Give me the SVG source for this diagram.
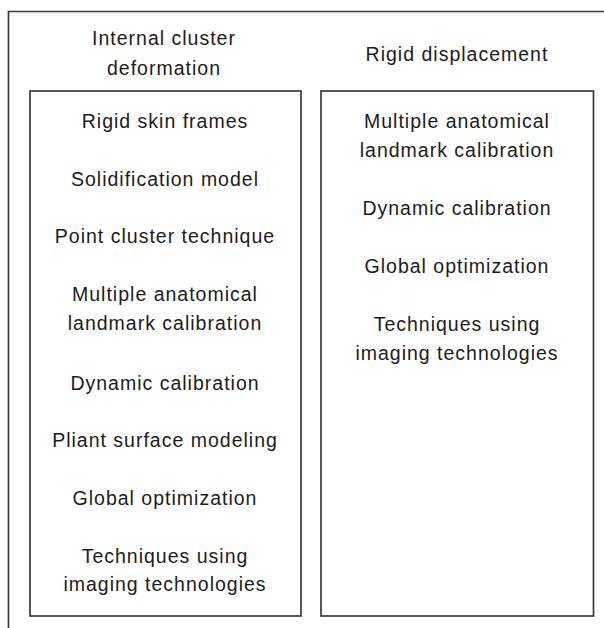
<svg xmlns="http://www.w3.org/2000/svg" width="604" height="628" viewBox="0 0 604 628">
<style>
.ln{fill:none;stroke:#3a3a3a;stroke-width:1.7}
.t{font-family:"Liberation Sans",Arial,sans-serif;font-size:19.5px;letter-spacing:1px;fill:#1c1c1c;text-anchor:middle}
</style>
<rect width="604" height="628" fill="#fff"/>
<g id="frame">
<path class="ln" d="M8.5,628 V11.5 H604"/>
</g>
<g id="header-left">
<text class="t" x="164" y="45">Internal cluster</text>
<text class="t" x="164" y="75">deformation</text>
</g>
<g id="header-right">
<text class="t" x="457" y="61">Rigid displacement</text>
</g>
<g id="box-left">
<rect class="ln" x="30" y="91" width="271" height="525"/>
<text class="t" x="165" y="128">Rigid skin frames</text>
<text class="t" x="165" y="186">Solidification model</text>
<text class="t" x="165" y="243">Point cluster technique</text>
<text class="t" x="165" y="301">Multiple anatomical</text>
<text class="t" x="165" y="330">landmark calibration</text>
<text class="t" x="165" y="390">Dynamic calibration</text>
<text class="t" x="165" y="447">Pliant surface modeling</text>
<text class="t" x="165" y="505">Global optimization</text>
<text class="t" x="165" y="563">Techniques using</text>
<text class="t" x="165" y="591">imaging technologies</text>
</g>
<g id="box-right">
<rect class="ln" x="321" y="91" width="272.5" height="525"/>
<text class="t" x="457" y="128">Multiple anatomical</text>
<text class="t" x="457" y="157">landmark calibration</text>
<text class="t" x="457" y="215">Dynamic calibration</text>
<text class="t" x="457" y="273">Global optimization</text>
<text class="t" x="457" y="331">Techniques using</text>
<text class="t" x="457" y="360">imaging technologies</text>
</g>
<g id="connectors"></g>
</svg>
